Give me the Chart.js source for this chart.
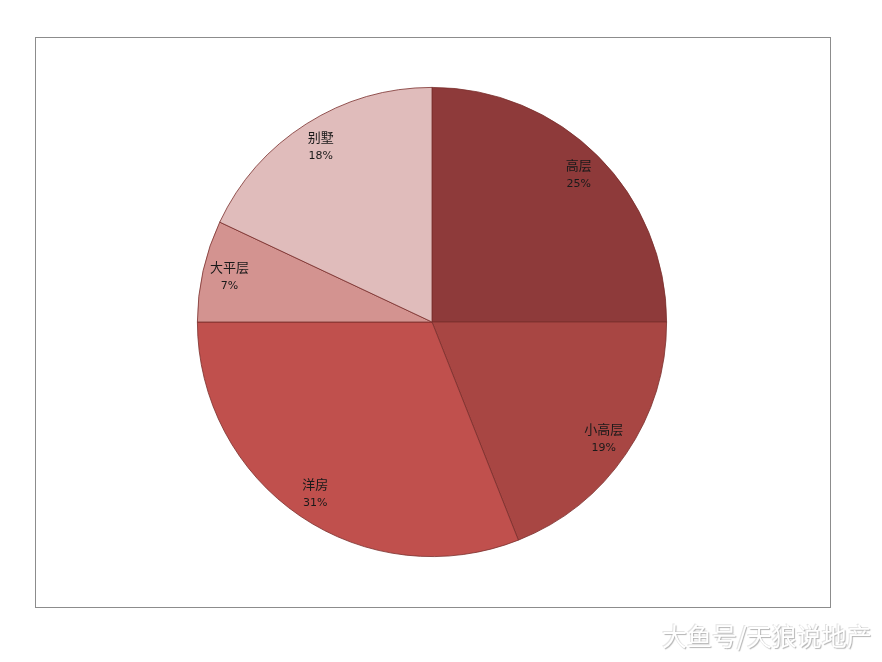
<!DOCTYPE html>
<html>
<head>
<meta charset="utf-8">
<script src="https://cdn.jsdelivr.net/npm/chart.js@4"></script>
<style>
    body { margin: 0; background: #fff; }
    #wrap { position: relative; width: 882px; height: 662px; }
    #frame {
        position: absolute; left: 35px; top: 37px; width: 794px; height: 569px;
        border: 1px solid #8c8c8c;
    }
    #chart { position: absolute; left: 0; top: 0; }
    #mark {
        position: absolute; left: 662px; top: 617px;
        font-family: "Noto Sans CJK SC", sans-serif; font-size: 25px;
        color: #fff; text-shadow: 1px 1px 1px #b4b4b4, -1px -1px 0 #e4e4e4;
    }
</style>
</head>
<body>
<div id="wrap">
    <div id="frame"></div>
    <canvas id="chart" width="882" height="662"></canvas>
    <div id="mark">大鱼号/天狼说地产</div>
</div>
<script>
const categories = ['高层', '小高层', '洋房', '大平层', '别墅'];
const shares = [25, 19, 31, 7, 18];
const sliceColors = ['#8e3a3a', '#a84643', '#c0504d', '#d39390', '#e0bcbb'];

const sliceLabels = {
    id: 'sliceLabels',
    afterDatasetsDraw(chart) {
        const ctx = chart.ctx;
        const meta = chart.getDatasetMeta(0);
        ctx.save();
        ctx.fillStyle = '#1a1a1a';
        ctx.textAlign = 'center';
        ctx.textBaseline = 'middle';
        meta.data.forEach((arc, i) => {
            const p = arc.getProps(['x', 'y', 'startAngle', 'endAngle', 'outerRadius'], true);
            const mid = (p.startAngle + p.endAngle) / 2;
            const r = p.outerRadius * 0.885;
            const x = p.x + Math.cos(mid) * r;
            const y = p.y + Math.sin(mid) * r;
            ctx.font = '13px "Noto Sans CJK SC", sans-serif';
            ctx.fillText(categories[i], x, y - 10);
            ctx.font = '11px "DejaVu Sans", sans-serif';
            ctx.fillText(shares[i] + '%', x, y + 9);
        });
        ctx.restore();
    }
};

new Chart(document.getElementById('chart'), {
    type: 'pie',
    data: {
        labels: categories,
        datasets: [{
            data: shares,
            backgroundColor: sliceColors,
            borderColor: '#7a2e2c',
            borderWidth: 0.8
        }]
    },
    options: {
        responsive: false,
        animation: false,
        layout: {
            padding: { top: 87, bottom: 105, left: 197, right: 215 }
        },
        plugins: {
            legend: { display: false },
            tooltip: { enabled: false }
        }
    },
    plugins: [sliceLabels]
});
</script>
</body>
</html>
